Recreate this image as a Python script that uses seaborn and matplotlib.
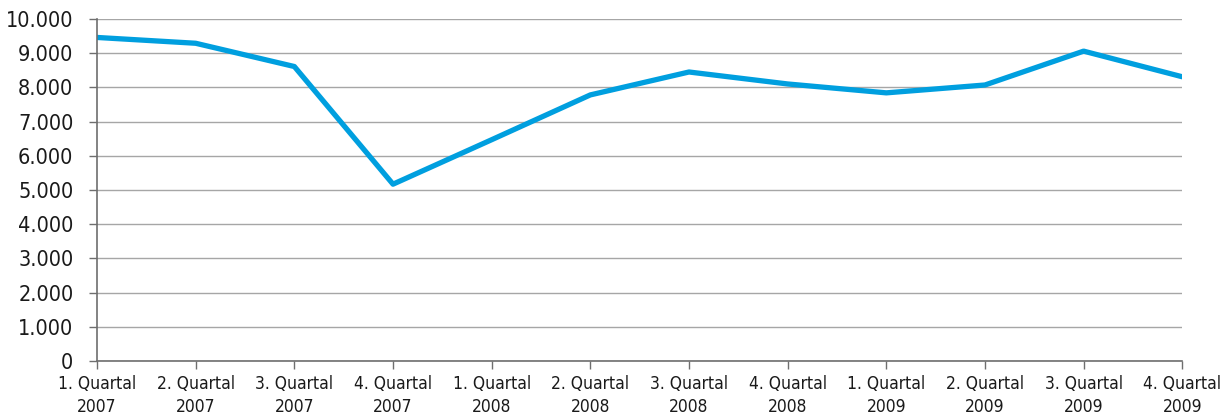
import matplotlib
matplotlib.use("Agg")
import matplotlib.pyplot as plt
from matplotlib.ticker import FuncFormatter, MultipleLocator
import seaborn as sns
import pandas as pd

# Daten ablesen aus dem Bild
quartale = ["1. Quartal", "2. Quartal", "3. Quartal", "4. Quartal"] * 3
jahre = ["2007"] * 4 + ["2008"] * 4 + ["2009"] * 4
werte = [9460, 9290, 8610, 5170, 6470, 7780, 8450, 8100, 7840, 8070, 9060, 8310]

labels = [f"{q}\n{j}" for q, j in zip(quartale, jahre)]
df = pd.DataFrame({"periode": labels, "wert": werte})

sns.set_theme(style="white")
plt.rcParams["font.family"] = ["DejaVu Sans"]
plt.rcParams["font.stretch"] = "condensed"

fig, ax = plt.subplots(figsize=(12.22, 4.19), dpi=100)
fig.subplots_adjust(left=0.0794, right=0.9675, top=0.9547, bottom=0.1384)

sns.lineplot(data=df, x="periode", y="wert", sort=False, color="#009fdf",
             linewidth=3.8, ax=ax)

ax.set_xlim(0, len(labels) - 1)
ax.set_ylim(0, 10000)
ax.yaxis.set_major_locator(MultipleLocator(1000))
ax.yaxis.set_major_formatter(FuncFormatter(lambda v, p: f"{v:,.0f}".replace(",", ".")))
ax.grid(axis="y", color="#a6a6a6", linewidth=1.0)
ax.set_axisbelow(True)

for s in ["top", "right"]:
    ax.spines[s].set_visible(False)
for s in ["left", "bottom"]:
    ax.spines[s].set_color("#6e6e6e")
    ax.spines[s].set_linewidth(1.2)

ax.tick_params(axis="y", left=True, length=6, width=1, color="#6e6e6e",
               labelsize=15.5, labelcolor="#1a1a1a", pad=11)
ax.tick_params(axis="x", bottom=True, length=6, width=1, color="#6e6e6e",
               labelsize=12.5, labelcolor="#1a1a1a", pad=4)
for t in ax.get_xticklabels():
    t.set_linespacing(1.4)
ax.set_xlabel("")
ax.set_ylabel("")

fig.savefig("out.png", dpi=100)
